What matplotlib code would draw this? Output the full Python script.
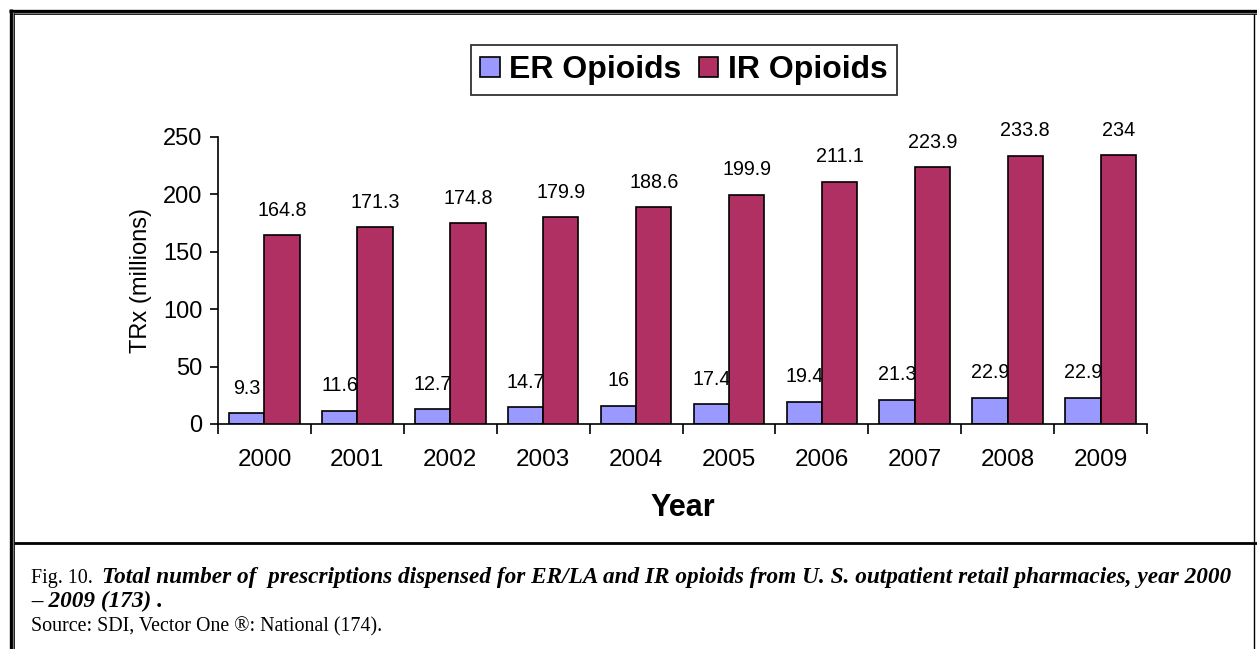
import matplotlib
matplotlib.use("Agg")
import matplotlib.pyplot as plt
from matplotlib.lines import Line2D
from matplotlib.patches import Patch
import numpy as np

years = ["2000", "2001", "2002", "2003", "2004", "2005", "2006", "2007", "2008", "2009"]
er_opioids = [9.3, 11.6, 12.7, 14.7, 16, 17.4, 19.4, 21.3, 22.9, 22.9]
ir_opioids = [164.8, 171.3, 174.8, 179.9, 188.6, 199.9, 211.1, 223.9, 233.8, 234]
er_labels = ["9.3", "11.6", "12.7", "14.7", "16", "17.4", "19.4", "21.3", "22.9", "22.9"]
ir_labels = ["164.8", "171.3", "174.8", "179.9", "188.6", "199.9", "211.1", "223.9", "233.8", "234"]

ER_COLOR = "#9999FF"
IR_COLOR = "#B03064"
SANS = "Liberation Sans"
SERIF = "Liberation Serif"

W, H = 1257, 649
fig = plt.figure(figsize=(W / 100, H / 100), dpi=100)
fig.patch.set_facecolor("white")

def fx(px):
    return px / W

def fy(py):
    return 1 - py / H

# plotting area
ax = fig.add_axes([fx(218), fy(424), fx(1147) - fx(218), fy(137) - fy(424)])
x = np.arange(len(years))
bw = 0.38
ax.bar(x - bw / 2, er_opioids, width=bw, color=ER_COLOR, edgecolor="black",
       linewidth=1.2, zorder=2)
ax.bar(x + bw / 2, ir_opioids, width=bw, color=IR_COLOR, edgecolor="black",
       linewidth=1.2, zorder=4)

# value labels; ER labels sit beneath the neighbouring IR bars
for xi, v, lab in zip(x - bw / 2, er_opioids, er_labels):
    ax.annotate(lab, (xi, v), xytext=(0, 11), textcoords="offset points",
                ha="center", va="bottom", fontsize=14.2, family=SANS, zorder=3)
for xi, v, lab in zip(x + bw / 2, ir_opioids, ir_labels):
    ax.annotate(lab, (xi, v), xytext=(0, 11), textcoords="offset points",
                ha="center", va="bottom", fontsize=14.2, family=SANS, zorder=5)

ax.set_xlim(-0.5, len(years) - 0.5)
ax.set_ylim(0, 250)
ax.set_yticks([0, 50, 100, 150, 200, 250])
ax.set_xticks(x)
ax.set_xticklabels(years, fontsize=17.5, family=SANS)
ax.set_xticks(np.arange(-0.5, len(years)), minor=True)
ax.tick_params(axis="x", which="major", length=0, pad=18)
ax.tick_params(axis="x", which="minor", length=7, width=1.2, direction="out")
ax.tick_params(axis="y", length=6, width=1.2, direction="out", labelsize=17, pad=5)
for t in ax.get_yticklabels():
    t.set_family(SANS)
for s in ["top", "right"]:
    ax.spines[s].set_visible(False)
for s in ["left", "bottom"]:
    ax.spines[s].set_linewidth(1.2)
ax.set_ylabel("TRx (millions)", fontsize=17, family=SANS, labelpad=8)
ax.set_xlabel("Year", fontsize=22, family=SANS, fontweight="bold", labelpad=16)

handles = [Patch(facecolor=ER_COLOR, edgecolor="black", linewidth=1.2),
           Patch(facecolor=IR_COLOR, edgecolor="black", linewidth=1.2)]
leg = fig.legend(handles, ["ER Opioids", "IR Opioids"], loc="center",
                 bbox_to_anchor=(fx(684), fy(70)), ncol=2, frameon=True, fancybox=False,
                 prop={"family": SANS, "weight": "bold", "size": 23},
                 handlelength=0.6, handleheight=0.6, handletextpad=0.3,
                 columnspacing=0.55, borderpad=0.3, edgecolor="black")
leg.get_frame().set_linewidth(1.3)

# page frame: double rule on top and left, thin rule on right, separator above caption
def hline(y, x0, x1, lw, color="black"):
    fig.add_artist(Line2D([fx(x0), fx(x1)], [fy(y), fy(y)], lw=lw, color=color,
                          transform=fig.transFigure, solid_capstyle="butt"))

def vline(xp, y0, y1, lw, color="black"):
    fig.add_artist(Line2D([fx(xp), fx(xp)], [fy(y0), fy(y1)], lw=lw, color=color,
                          transform=fig.transFigure, solid_capstyle="butt"))

hline(10.5, 9, W, 2.4)
hline(13.0, 12, W, 0.9, "#777777")
hline(14.2, 13, W, 0.6)
vline(10.5, 9, H, 2.4)
vline(13.0, 12, H, 0.9, "#777777")
vline(14.2, 13, H, 0.6)
vline(1253.5, 14, H, 1.0)
hline(543, 14, W, 2.0)

# caption
cap_line1 = ("Total number of  prescriptions dispensed for ER/LA and IR opioids from U. S. "
             "outpatient retail pharmacies, year 2000")
cap_line2 = "\u2013 2009 (173) ."
source = "Source: SDI, Vector One \u00ae: National (174)."

r = fig.canvas.get_renderer()
fig.text(fx(31), fy(583), "Fig. 10.", family=SERIF, fontsize=14.4, va="baseline")
it = fig.text(fx(102), fy(583), cap_line1, family=SERIF, fontsize=14.4,
              style="italic", fontweight="bold", va="baseline")
# widen the italic line so it runs to the right margin
w = it.get_window_extent(r).width
it_size = 14.4 * (1231 - 102) / w
it.set_fontsize(it_size)
fig.text(fx(31), fy(607), cap_line2, family=SERIF, fontsize=it_size,
         style="italic", fontweight="bold", va="baseline")
fig.text(fx(31), fy(631), source, family=SERIF, fontsize=14.4, va="baseline")

fig.savefig("out.png", dpi=100, facecolor="white")
